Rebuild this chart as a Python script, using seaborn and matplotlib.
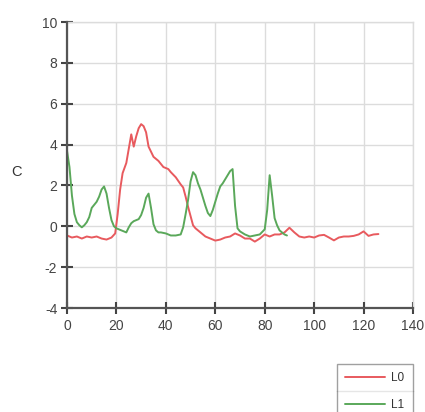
import matplotlib
matplotlib.use("Agg")
import matplotlib.pyplot as plt
import seaborn as sns
import pandas as pd
from matplotlib.lines import Line2D

red_x = [0, 2, 4, 6, 8, 10, 12, 14, 16, 18, 19.5, 20.5, 21.5, 22.5, 24, 25, 26, 27, 28, 29,
         30, 31, 32, 33, 35, 37, 39, 41, 42, 44, 46, 47, 48, 49, 50, 51, 52, 54, 56, 58,
         60, 62, 64, 66, 68, 70, 72, 74, 76, 78, 80, 82, 84, 86, 88, 90, 92, 94, 96, 98,
         100, 102, 104, 106, 108, 110, 112, 114, 116, 118, 120, 122, 124, 126]
red_y = [-0.45, -0.55, -0.5, -0.6, -0.5, -0.55, -0.5, -0.6, -0.65, -0.55, -0.35, 0.6, 1.8, 2.6, 3.1, 3.8, 4.5, 3.9, 4.4, 4.8,
         5.0, 4.9, 4.6, 3.9, 3.4, 3.2, 2.9, 2.8, 2.65, 2.4, 2.05, 1.9, 1.45, 0.95, 0.5, 0.05, -0.1, -0.3, -0.5, -0.6,
         -0.7, -0.65, -0.55, -0.5, -0.35, -0.45, -0.6, -0.6, -0.75, -0.6, -0.4, -0.5, -0.4, -0.4, -0.3, -0.07, -0.3, -0.5, -0.55, -0.5,
         -0.55, -0.45, -0.42, -0.55, -0.69, -0.55, -0.5, -0.5, -0.47, -0.4, -0.25, -0.47, -0.4, -0.38]

green_x = [0, 1, 2, 3, 4, 5, 6, 7, 8, 9, 10, 11, 12, 13, 14, 15, 16, 17, 18, 19, 20,
           22, 24,
           25, 26, 27, 28, 29, 30, 31, 32, 33, 34, 35, 36, 37, 38,
           40, 42, 44, 46,
           47, 48, 49, 50, 51, 52, 53, 54, 55, 56, 57, 58, 59, 60, 61, 62, 63, 64, 65, 66, 67, 68, 69, 70,
           72, 74, 76, 78, 80,
           81, 82, 83, 84, 85, 86, 87, 88, 89]
green_y = [3.7, 2.9, 1.5, 0.6, 0.2, 0.05, -0.05, 0.05, 0.2, 0.45, 0.9, 1.05, 1.2, 1.45, 1.8, 1.95, 1.6, 0.9, 0.3, 0.0, -0.1,
           -0.2, -0.3,
           -0.05, 0.15, 0.25, 0.3, 0.35, 0.55, 0.9, 1.4, 1.6, 0.9, 0.1, -0.2, -0.3, -0.3,
           -0.35, -0.45, -0.45, -0.4,
           -0.05, 0.6, 1.3, 2.2, 2.65, 2.5, 2.1, 1.8, 1.4, 1.0, 0.65, 0.5, 0.8, 1.2, 1.6, 1.95, 2.1, 2.3, 2.5, 2.7, 2.8, 1.0, -0.1, -0.25,
           -0.4, -0.5, -0.45, -0.4, -0.15,
           0.8, 2.5, 1.5, 0.4, 0.05, -0.2, -0.3, -0.4, -0.45]

series_names = ["L0", "L1"]
x_ticks = [0, 20, 40, 60, 80, 100, 120, 140]
y_ticks = [-4, -2, 0, 2, 4, 6, 8, 10]
y_label = "C"

df = pd.concat([
    pd.DataFrame({"x": red_x, "y": red_y, "s": series_names[0]}),
    pd.DataFrame({"x": green_x, "y": green_y, "s": series_names[1]}),
])

W, H = 425, 412
sns.set_style("whitegrid")
plt.rcParams["font.family"] = ["Liberation Sans", "DejaVu Sans"]
plt.rcParams["axes.unicode_minus"] = False
fig = plt.figure(figsize=(W/100, H/100), dpi=100)
ax = fig.add_axes([67/W, 1-308/H, (413-67)/W, (308-22)/H])

palette = {"L0": "#e85a5e", "L1": "#5aa85a"}
sns.lineplot(data=df, x="x", y="y", hue="s", palette=palette, ax=ax,
             linewidth=1.4, sort=False, estimator=None, legend=False)

ax.set_xlim(0, 140)
ax.set_ylim(-4, 10)
ax.set_xticks(x_ticks)
ax.set_yticks(y_ticks)
ax.set_xlabel("")
ax.set_ylabel(y_label, rotation=0, fontsize=10.5, color="#333333", ha="center", va="center")
ax.yaxis.set_label_coords((16-67)/346, (308-172)/286)
ax.grid(True, color="#dcdcdc", linewidth=1)
for s in ["top", "right"]:
    ax.spines[s].set_color("#dcdcdc")
    ax.spines[s].set_linewidth(1)
for s in ["left", "bottom"]:
    ax.spines[s].set_color("#555555")
    ax.spines[s].set_linewidth(1.6)
    ax.spines[s].set_zorder(5)
ax.tick_params(axis="both", direction="inout", length=8, width=1.5, color="#444444",
               labelsize=10, labelcolor="#444444", left=True, bottom=True)
ax.tick_params(axis="x", pad=4)
ax.tick_params(axis="y", pad=3)

handles = [Line2D([], [], color=palette[n], linewidth=1.4) for n in series_names]
leg = fig.legend(handles, series_names, loc="upper left",
                 bbox_to_anchor=(337/W, 1-364/H), frameon=True, fancybox=False,
                 edgecolor="#888888", fontsize=8.5, handlelength=3.4, handletextpad=0.5,
                 borderpad=0.7, labelspacing=1.25, borderaxespad=0)
leg.get_frame().set_linewidth(1)
for t in leg.get_texts():
    t.set_color("#333333")

fig.canvas.draw()
bb = leg.get_frame().get_window_extent().transformed(fig.transFigure.inverted())
fig.add_artist(Line2D([bb.x0, bb.x1], [1-391/H, 1-391/H], transform=fig.transFigure,
                      color="#888888", linewidth=1))

fig.savefig("out.png", dpi=100)
